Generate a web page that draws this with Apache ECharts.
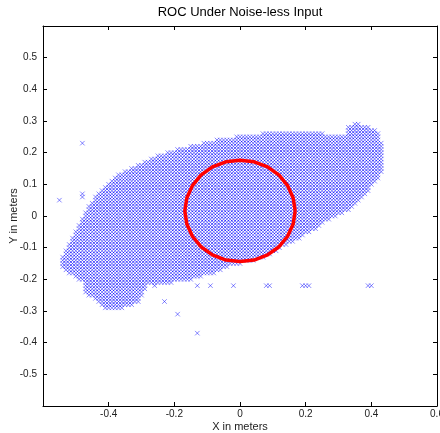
<!DOCTYPE html>
<html>
<head>
<meta charset="utf-8">
<script src="https://cdn.jsdelivr.net/npm/echarts@6/dist/echarts.min.js"></script>
<style>
  html, body { margin: 0; padding: 0; background: #fff; }
  #chart { width: 440px; height: 433px; }
</style>
</head>
<body>
<div id="chart"></div>
<script>
// Detection region: each row is [y, xStart, xEnd, (xStart2, xEnd2)...] on a 0.01 m grid
const gridStep = 0.01;
const regionRows = [
  [0.29, 0.35, 0.36],
  [0.28, 0.33, 0.39],
  [0.27, 0.33, 0.41],
  [0.26, 0.07, 0.25, 0.33, 0.42],
  [0.25, -0.01, 0.42],
  [0.24, -0.07, 0.42],
  [0.23, -0.11, 0.43],
  [0.22, -0.15, 0.43],
  [0.21, -0.19, 0.43],
  [0.20, -0.22, 0.43],
  [0.19, -0.25, 0.43],
  [0.18, -0.27, 0.43],
  [0.17, -0.29, 0.43],
  [0.16, -0.31, 0.43],
  [0.15, -0.33, 0.43],
  [0.14, -0.35, 0.43],
  [0.13, -0.37, 0.42],
  [0.12, -0.38, 0.42],
  [0.11, -0.39, 0.41],
  [0.10, -0.40, 0.40],
  [0.09, -0.41, 0.39],
  [0.08, -0.42, 0.39],
  [0.07, -0.43, 0.38],
  [0.06, -0.44, 0.37],
  [0.05, -0.44, 0.36],
  [0.04, -0.45, 0.35],
  [0.03, -0.46, 0.34],
  [0.02, -0.46, 0.33],
  [0.01, -0.47, 0.31],
  [0.00, -0.47, 0.29],
  [-0.01, -0.48, 0.27],
  [-0.02, -0.48, 0.25],
  [-0.03, -0.49, 0.24],
  [-0.04, -0.49, 0.23],
  [-0.05, -0.50, 0.21],
  [-0.06, -0.50, 0.19],
  [-0.07, -0.51, 0.18],
  [-0.08, -0.51, 0.16],
  [-0.09, -0.52, 0.14],
  [-0.10, -0.52, 0.12],
  [-0.11, -0.53, 0.11],
  [-0.12, -0.53, 0.09],
  [-0.13, -0.54, 0.07],
  [-0.14, -0.54, 0.04],
  [-0.15, -0.54, 0.00],
  [-0.16, -0.54, -0.04],
  [-0.17, -0.53, -0.06],
  [-0.18, -0.52, -0.08],
  [-0.19, -0.50, -0.12],
  [-0.20, -0.49, -0.15],
  [-0.21, -0.47, -0.21],
  [-0.22, -0.47, -0.29],
  [-0.23, -0.47, -0.29],
  [-0.24, -0.47, -0.30],
  [-0.25, -0.46, -0.30],
  [-0.26, -0.44, -0.31],
  [-0.27, -0.43, -0.31],
  [-0.28, -0.42, -0.33],
  [-0.29, -0.41, -0.36]
];

// Isolated detections outside the main region
const strayPoints = [
  [-0.48, 0.23], [-0.48, 0.07], [-0.48, 0.06], [-0.55, 0.05],
  [-0.26, -0.22], [-0.13, -0.22], [-0.09, -0.22], [-0.02, -0.22],
  [0.08, -0.22], [0.09, -0.22], [0.19, -0.22], [0.20, -0.22], [0.21, -0.22],
  [0.39, -0.22], [0.40, -0.22],
  [-0.23, -0.27], [-0.19, -0.31], [-0.13, -0.37]
];

// Region-of-coverage boundary (closed loop)
const circlePoints = [
  [0.168, 0.016], [0.162, 0.057], [0.145, 0.096], [0.119, 0.129],
  [0.084, 0.155], [0.043, 0.171], [0.000, 0.176], [-0.043, 0.171],
  [-0.084, 0.155], [-0.119, 0.129], [-0.145, 0.096], [-0.162, 0.057],
  [-0.168, 0.016], [-0.162, -0.025], [-0.145, -0.064], [-0.119, -0.097],
  [-0.084, -0.123], [-0.043, -0.139], [0.000, -0.144], [0.043, -0.139],
  [0.084, -0.123], [0.119, -0.097], [0.145, -0.064], [0.162, -0.025],
  [0.168, 0.016]
];

const xRange = [-0.6, 0.6];
const yRange = [-0.6, 0.6];
const xTickStep = 0.2;
const yTickStep = 0.1;

function expandRows(rows, step) {
  const pts = [];
  rows.forEach(function (r) {
    const y = r[0];
    for (let s = 1; s < r.length; s += 2) {
      const a = Math.round(r[s] / step);
      const b = Math.round(r[s + 1] / step);
      for (let i = a; i <= b; i++) {
        pts.push([+(i * step).toFixed(2), y]);
      }
    }
  });
  return pts;
}

const regionPoints = expandRows(regionRows, gridStep);

const FONT = '"Liberation Sans", Arial, Helvetica, sans-serif';
const crossSymbol = 'path://M0,0L10,10M10,0L0,10';
const crossStyle = { color: 'rgba(0,0,0,0)', borderColor: 'rgba(0,0,255,0.6)', borderWidth: 1 };

const frameAxis = {
  axisLine: { show: true, onZero: false, lineStyle: { color: '#000', width: 1 } },
  axisTick: { show: true, inside: true, length: 4, lineStyle: { color: '#000', width: 1 } },
  splitLine: { show: false }
};

const chart = echarts.init(document.getElementById('chart'), null, { renderer: 'canvas' });
chart.setOption({
  animation: false,
  backgroundColor: '#fff',
  title: {
    text: 'ROC Under Noise-less Input',
    left: 235,
    top: 1,
    textAlign: 'center',
    textStyle: { fontFamily: FONT, fontSize: 13, fontWeight: 'normal', color: '#000' }
  },
  grid: { left: 43, right: 3, top: 26, bottom: 27, containLabel: false, outerBoundsMode: 'none' },
  xAxis: [
    Object.assign({
      type: 'value', min: xRange[0], max: xRange[1], interval: xTickStep, position: 'bottom',
      name: 'X in meters', nameLocation: 'middle', nameGap: 15, nameMoveOverlap: false,
      nameTextStyle: { fontFamily: FONT, fontSize: 11, color: '#222' },
      axisLabel: { show: true, showMinLabel: false, margin: 3, fontFamily: FONT, fontSize: 10, color: '#222' }
    }, frameAxis),
    Object.assign({
      type: 'value', min: xRange[0], max: xRange[1], interval: xTickStep, position: 'top',
      axisLabel: { show: false }
    }, frameAxis)
  ],
  yAxis: [
    Object.assign({
      type: 'value', min: yRange[0], max: yRange[1], interval: yTickStep, position: 'left',
      name: 'Y in meters', nameLocation: 'middle', nameGap: 24, nameRotate: 90, nameMoveOverlap: false,
      nameTextStyle: { fontFamily: FONT, fontSize: 11, color: '#222' },
      axisLabel: { show: true, showMinLabel: false, showMaxLabel: false, margin: 6, fontFamily: FONT, fontSize: 10, color: '#222' }
    }, frameAxis),
    Object.assign({
      type: 'value', min: yRange[0], max: yRange[1], interval: yTickStep, position: 'right',
      axisLabel: { show: false }
    }, frameAxis)
  ],
  series: [
    {
      name: 'region', type: 'scatter', data: regionPoints,
      symbol: crossSymbol, symbolSize: 4.5, itemStyle: crossStyle,
      silent: true, progressive: 0, large: false, z: 2
    },
    {
      name: 'stray', type: 'scatter', data: strayPoints,
      symbol: crossSymbol, symbolSize: 4.5, itemStyle: crossStyle,
      silent: true, z: 2
    },
    {
      name: 'coverage', type: 'line', data: circlePoints,
      showSymbol: false, smooth: false, silent: true,
      lineStyle: { color: '#ff0000', width: 3.5 }, z: 3
    }
  ]
});
</script>
</body>
</html>
